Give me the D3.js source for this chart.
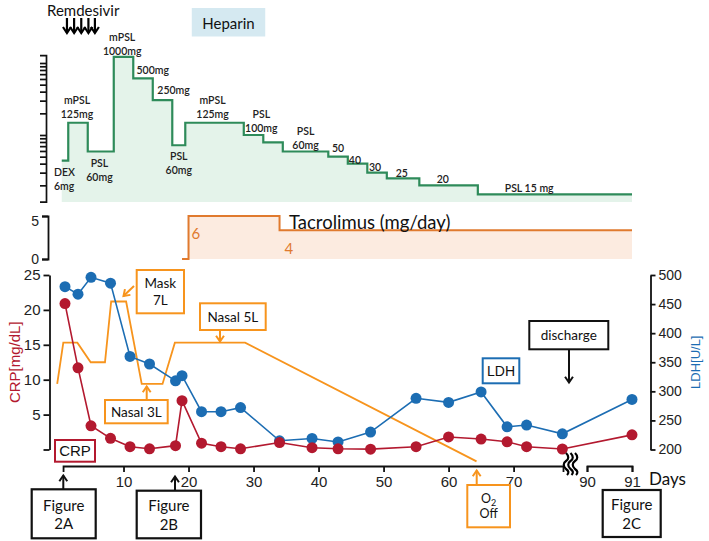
<!DOCTYPE html>
<html><head><meta charset="utf-8">
<script src="https://cdn.jsdelivr.net/npm/d3@7"></script>
<style>body{margin:0;background:#fff} svg{display:block}</style>
</head><body><svg id="c" width="709" height="541"></svg>
<script>
// ---------- data ----------
const labDays = [1,3,5,8,11,14,18,19,22,25,28,34,39,43,48,55,60,65,69,72,77.5,91];
const crpValues = [20.9,11.7,3.4,1.6,0.4,0.1,0.55,7.0,0.9,0.4,0.1,1.0,0.26,0.1,0.05,0.4,1.8,1.5,1.1,0.4,0.07,2.1];
const ldhValues = [480,467,496,486,360,347,318,327,265,265,272,215,219,213,230,288,281,299,239,242,227,286];

const o2Days  = [-0.2,0.74,2.9,4.95,7.15,8.1,10.4,12.8,16,17.9,28.7,64.3];
const o2Level = [9.4,15.3,15.3,12.5,12.5,21.2,21.2,9.4,9.4,15.3,15.3,-1.7];

const steroidDays = [0.5,1.5,4.5,8.5,11.5,14.5,17.5,19.5,28.5,31.5,34.5,41.5,44.5,47.5,50.5,55.5,64.5,91];
const steroidDose = [44,148,59,1220,610,305,72,148,100,79,59,50,40,30,25,20,15,15];
const steroidLabels = [
  {t:["DEX","6mg"], d:0.55, y:172, a:"start"},
  {t:["mPSL","125mg"], d:2.85, y:100},
  {t:["PSL","60mg"], d:6.3, y:163},
  {t:["mPSL","1000mg"], d:9.8, y:37},
  {t:["500mg"], d:14.5, y:70},
  {t:["250mg"], d:17.7, y:90},
  {t:["PSL","60mg"], d:18.5, y:156},
  {t:["mPSL","125mg"], d:23.7, y:100},
  {t:["PSL","100mg"], d:31.2, y:114},
  {t:["PSL","60mg"], d:38, y:131},
  {t:["50"], d:43, y:148},
  {t:["40"], d:45.6, y:160},
  {t:["30"], d:48.7, y:167},
  {t:["25"], d:52.8, y:173},
  {t:["20"], d:59.1, y:179},
  {t:["PSL 15 mg"], d:72.4, y:188}
];

const tacroDays = [19,20,34,91];
const tacroDose = [0,6,4,4];

const remdesivirDays = [1.3,2.4,3.5,4.6,5.6];
const heparinDays = [20.5,31.8];

const xTicks1 = [10,20,30,40,50,60,70];
const xTicks2 = [90,91];
const crpTicks = [0,5,10,15,20,25];
const ldhTicks = [200,250,300,350,400,450,500];
const tacroTicks = [0,5];
const steroidTicks = [20,30,40,50,60,70,80,90,100,200,300,400,500,600,700,800,900,1000];

// ---------- scales ----------
const svg = d3.select("#c");
const x = d3.scaleLinear().domain([0,77.6,90,91]).range([58.5,563,587,632]);
const yCRP = d3.scaleLinear().domain([0,25]).range([449.5,275]);
const yLDH = d3.scaleLinear().domain([200,500]).range([449.5,275]);
const yT = d3.scaleLinear().domain([0,6]).range([259,216]);
const yTaxis = d3.scaleLinear().domain([0,5]).range([259,216]);
const yS = d3.scaleLog().domain([10,1000]).range([207,63]);
const fmt = d3.format("d");

const GREEN="#2e8b5a", GREENFILL="#e4f3ea", TAC="#e07a2e", TACFILL="#fcebe0",
      O2C="#f7941d", CRPC="#b3192f", LDHC="#1c6db3";
const CAL = "Lato, 'Open Sans', sans-serif";
const ARI = "'Liberation Sans', Arial, sans-serif";

// ---------- steroid panel ----------
const sPts = steroidDays.map((d,i)=>[d,steroidDose[i]]);
svg.append("path").attr("d", d3.area().curve(d3.curveStepAfter)
   .x(p=>x(p[0])).y0(202).y1(p=>yS(p[1]))(sPts)).attr("fill",GREENFILL);
svg.append("path").attr("d", d3.line().curve(d3.curveStepAfter)
   .x(p=>x(p[0])).y(p=>yS(p[1]))(sPts)).attr("fill","none").attr("stroke",GREEN).attr("stroke-width",2.2);

const sAxisScale = yS.copy().domain([11.9,1290]).range([yS(11.9),yS(1290)]);
const sAx = svg.append("g").attr("transform","translate(46,0)")
  .call(d3.axisLeft(sAxisScale).tickValues(steroidTicks).tickSize(6).tickSizeOuter(6).tickFormat(""));
sAx.selectAll("path,line").attr("stroke","#111").attr("stroke-width",1.7);

steroidLabels.forEach(l=>{
  l.t.forEach((s,i)=>{
    svg.append("text").attr("x", l.a==="start"? 54 : x(l.d)).attr("y", l.y + i*14)
      .attr("text-anchor", l.a||"middle").attr("dominant-baseline","central")
      .attr("font-family",CAL).attr("font-size",10.5).attr("font-weight",600).attr("fill","#222").text(s);
  });
});

// Remdesivir
svg.append("text").attr("x",47).attr("y",10).attr("dominant-baseline","central")
  .attr("font-family",CAL).attr("font-size",15).attr("fill","#111").text("Remdesivir");
remdesivirDays.forEach(d=>{
  const xx = x(d);
  svg.append("line").attr("x1",xx).attr("x2",xx).attr("y1",18).attr("y2",33).attr("stroke","#000").attr("stroke-width",2.2);
  svg.append("path").attr("d",`M${xx-4},${27} L${xx},${33} L${xx+4},${27}`).attr("fill","none").attr("stroke","#000").attr("stroke-width",2.2);
});
// Heparin
svg.append("rect").attr("x",x(heparinDays[0])).attr("y",8).attr("width",x(heparinDays[1])-x(heparinDays[0])).attr("height",28.5).attr("fill","#d5e9f1");
svg.append("text").attr("x",(x(heparinDays[0])+x(heparinDays[1]))/2).attr("y",22.5).attr("text-anchor","middle").attr("dominant-baseline","central")
  .attr("font-family",CAL).attr("font-size",15).attr("fill","#111").text("Heparin");

// ---------- tacrolimus panel ----------
const tPts = tacroDays.map((d,i)=>[d,tacroDose[i]]);
svg.append("path").attr("d", d3.area().curve(d3.curveStepAfter)
   .x(p=>x(p[0])).y0(yT(0)).y1(p=>yT(p[1]))(tPts.slice(1))).attr("fill",TACFILL);
svg.append("path").attr("d", d3.line().curve(d3.curveStepAfter)
   .x(p=>x(p[0])).y(p=>yT(p[1]))(tPts)).attr("fill","none").attr("stroke",TAC).attr("stroke-width",2);
const tAx = svg.append("g").attr("transform","translate(48,0)")
  .call(d3.axisLeft(yTaxis).tickValues(tacroTicks).tickFormat(fmt).tickSize(6).tickSizeOuter(6));
tAx.selectAll("path,line").attr("stroke","#111").attr("stroke-width",1.8);
tAx.selectAll("text").attr("font-family",ARI).attr("font-size",14).attr("fill","#222")
  .attr("dy", d=> d===5 ? "0.7em" : "0.32em");
svg.append("text").attr("x",x(20)+3).attr("y",yT(6)+17).attr("dominant-baseline","central").attr("font-family",CAL).attr("font-size",15).attr("fill",TAC).text("6");
svg.append("text").attr("x",x(34)+5).attr("y",yT(4)+18).attr("dominant-baseline","central").attr("font-family",CAL).attr("font-size",15).attr("fill",TAC).text("4");
svg.append("text").attr("x",289).attr("y",229).attr("font-family",CAL).attr("font-size",18.5).attr("fill","#111").text("Tacrolimus (mg/day)");

// ---------- main chart ----------
svg.append("path").attr("d", d3.line().x((d,i)=>x(o2Days[i])).y(d=>yCRP(d))(o2Level))
  .attr("fill","none").attr("stroke",O2C).attr("stroke-width",1.8);

function series(vals, yScale, color){
  const pts = labDays.map((d,i)=>[x(d), yScale(vals[i])]);
  svg.append("path").attr("d", d3.line()(pts)).attr("fill","none").attr("stroke",color).attr("stroke-width",1.6);
  svg.append("g").selectAll("circle").data(pts).join("circle")
    .attr("cx",p=>p[0]).attr("cy",p=>p[1]).attr("r",5.5).attr("fill",color);
}
series(ldhValues, yLDH, LDHC);
series(crpValues, yCRP, CRPC);

const lAx = svg.append("g").attr("transform","translate(49.5,0)")
  .call(d3.axisLeft(yCRP).tickValues(crpTicks).tickSize(6).tickSizeOuter(0).tickFormat(d=>d===0?"":fmt(d)));
lAx.selectAll("path,line").attr("stroke","#111").attr("stroke-width",1.8);
lAx.selectAll("text").attr("font-family",ARI).attr("font-size",15).attr("fill","#222");
svg.append("text").attr("transform",`translate(14,${yCRP(12.5)}) rotate(-90)`).attr("text-anchor","middle").attr("dominant-baseline","central")
  .attr("font-family",ARI).attr("font-size",15).attr("fill",CRPC).text("CRP[mg/dL]");

const rAx = svg.append("g").attr("transform","translate(650.5,0)")
  .call(d3.axisRight(yLDH).tickValues(ldhTicks).tickFormat(fmt).tickSize(5).tickSizeOuter(0));
rAx.selectAll("path,line").attr("stroke","#111").attr("stroke-width",1.8);
rAx.selectAll("text").attr("font-family",ARI).attr("font-size",14).attr("fill","#222");
svg.append("text").attr("transform",`translate(695,${yLDH(350)}) rotate(-90)`).attr("text-anchor","middle").attr("dominant-baseline","central")
  .attr("font-family",ARI).attr("font-size",13).attr("fill",LDHC).text("LDH[U/L]");

const xa = d3.scaleLinear().domain([0.7,77.6]).range([x(0.7),x(77.6)]);
const xb = d3.scaleLinear().domain([90,91]).range([x(90),x(91)]);
[[xa,xTicks1],[xb,xTicks2]].forEach(([s,t])=>{
  const g = svg.append("g").attr("transform","translate(0,466)")
    .call(d3.axisBottom(s).tickValues(t).tickFormat(fmt).tickSize(6).tickSizeOuter(6).tickPadding(4));
  g.selectAll("path,line").attr("stroke","#111").attr("stroke-width",1.8);
  g.selectAll("text").attr("font-family",ARI).attr("font-size",15).attr("fill","#222");
});
svg.append("text").attr("x",649).attr("y",478).attr("dominant-baseline","central").attr("font-family",CAL).attr("font-size",17).attr("fill","#111").text("Days");
[566,570.5,575].forEach(bx=>{
  svg.append("path").attr("d",`M${bx},453 c3,3 3,6 0,8 c-3,2 -3,5 0,8 c3,2 3,4 1,6`).attr("fill","none").attr("stroke","#000").attr("stroke-width",2.2);
});

// ---------- annotations ----------
function box(x0,y0,x1,y1,color,lines,font,size,sw){
  svg.append("rect").attr("x",x0).attr("y",y0).attr("width",x1-x0).attr("height",y1-y0)
    .attr("fill","#fff").attr("stroke",color).attr("stroke-width",sw||2);
  const cx=(x0+x1)/2, cy=(y0+y1)/2, lh=size*1.22;
  lines.forEach((s,i)=>{
    svg.append("text").attr("x",cx).attr("y",cy+(i-(lines.length-1)/2)*lh).attr("text-anchor","middle")
      .attr("dominant-baseline","central").attr("font-family",font).attr("font-size",size).attr("fill","#111").html(s);
  });
}
function arrow(x1,y1,x2,y2,color){
  svg.append("line").attr("x1",x1).attr("y1",y1).attr("x2",x2).attr("y2",y2).attr("stroke",color).attr("stroke-width",2);
  const a=Math.atan2(y2-y1,x2-x1), L=7, w=0.6;
  svg.append("path").attr("d",`M${x2-L*Math.cos(a-w)},${y2-L*Math.sin(a-w)} L${x2},${y2} L${x2-L*Math.cos(a+w)},${y2-L*Math.sin(a+w)}`)
    .attr("fill","none").attr("stroke",color).attr("stroke-width",2);
}
box(136.7,270,184,313.3,O2C,["Mask","7L"],CAL,13.5);
arrow(134,286,123.5,296,O2C);
box(200,303.3,265.7,330,O2C,["Nasal 5L"],CAL,13.5);
arrow(220,330,220,341.5,O2C);
box(105,400,167.7,423.3,O2C,["Nasal 3L"],CAL,13.5);
arrow(146.7,400,146.7,386.5,O2C);
box(55,440,95,461.7,CRPC,["CRP"],ARI,15);
box(482.7,358.3,519.3,383.3,LDHC,["LDH"],ARI,14);
box(529.3,321,608.3,349.3,"#111",["discharge"],CAL,13.5);
arrow(569,349.3,569,382.5,"#111");
box(31.7,489.3,95.7,538.3,"#111",["Figure","2A"],CAL,15,2.2);
arrow(63.3,489.3,63.3,475.5,"#111");
box(136.7,490.7,201,538.3,"#111",["Figure","2B"],CAL,15,2.2);
arrow(175,490.7,175,476.5,"#111");
box(467.3,485,510,527.3,O2C,["O<tspan font-size='9' dy='3'>2</tspan>","Off"],CAL,12.5);
arrow(476.7,485,476.7,470.5,O2C);
box(602.7,490,660.7,537,"#111",["Figure","2C"],CAL,15,2.2);
</script></body></html>
